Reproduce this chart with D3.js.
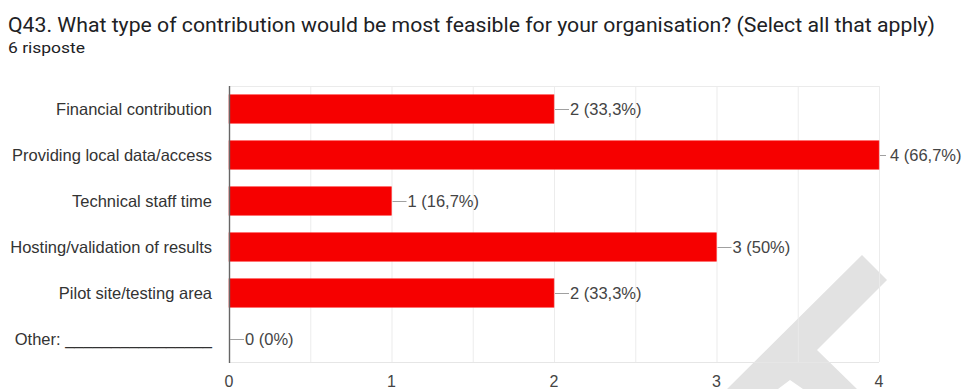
<!DOCTYPE html>
<html><head><meta charset="utf-8">
<script src="https://cdn.jsdelivr.net/npm/d3@7"></script>
<style>body{margin:0;background:#fff;} svg{display:block;}</style>
</head><body>
<svg id="c" width="967" height="389"></svg>
<script>
const title = "Q43. What type of contribution would be most feasible for your organisation? (Select all that apply)";
const subtitle = "6 risposte";
const categories = ["Financial contribution","Providing local data/access","Technical staff time","Hosting/validation of results","Pilot site/testing area","Other: ________________"];
const values = [2,4,1,3,2,0];
const labels = ["2 (33,3%)","4 (66,7%)","1 (16,7%)","3 (50%)","2 (33,3%)","0 (0%)"];
const xTicks = [0,1,2,3,4];
const gridSteps = [0,0.5,1,1.5,2,2.5,3,3.5,4];

(function(){
const svg = d3.select("#c");
const pL = 229, pR = 879, pT = 86, pB = 362;
const F = "'Liberation Sans', Arial, Helvetica, sans-serif";

// watermark (background logo)
svg.append("polygon")
  .attr("points","862,255 887,280 817,350 857,389 803,389 790,380 778,389 727,389")
  .attr("fill","#e2e2e2");

svg.append("text").attr("x",8).attr("y",32)
  .attr("font-family","Roboto, 'Liberation Sans', Arial, sans-serif")
  .attr("font-size",21).attr("fill","#202124")
  .attr("textLength",927).attr("lengthAdjust","spacingAndGlyphs").text(title);
svg.append("text").attr("x",8).attr("y",53)
  .attr("font-family","Roboto, 'Liberation Sans', Arial, sans-serif")
  .attr("font-size",15).attr("fill","#202124")
  .attr("textLength",77).attr("lengthAdjust","spacingAndGlyphs").text(subtitle);

const x = d3.scaleLinear().domain([0,4]).range([pL,pR]);
const y = d3.scaleBand().domain(categories).range([pT,pB]).paddingInner(0.38).paddingOuter(0.19);

const g = svg.append("g");
g.selectAll("line.grid").data(gridSteps).join("line")
  .attr("x1",d=>x(d)+0.5).attr("x2",d=>x(d)+0.5)
  .attr("y1",pT).attr("y2",pB)
  .attr("stroke","#ebebeb").attr("stroke-width",1).attr("opacity",0.9);
g.append("line").attr("x1",pL).attr("x2",pR).attr("y1",pT+0.5).attr("y2",pT+0.5).attr("stroke","#ebebeb");
g.append("line").attr("x1",pL).attr("x2",pR).attr("y1",pB+0.5).attr("y2",pB+0.5).attr("stroke","#e6e6e6");

g.selectAll("rect.bar").data(values).join("rect")
  .attr("x",x(0)).attr("y",(d,i)=>y(categories[i]))
  .attr("width",d=>x(d)-x(0)).attr("height",y.bandwidth())
  .attr("fill","#f60000").attr("stroke","#ff3a3a").attr("stroke-width",0.6);

// axis line
g.append("line").attr("x1",pL+0.5).attr("x2",pL+0.5).attr("y1",pT).attr("y2",pB+1)
  .attr("stroke","#666").attr("stroke-width",1.4);

// leader lines and value labels
values.forEach((v,i)=>{
  const cy = y(categories[i]) + y.bandwidth()/2;
  const x0 = x(v) + 1;
  g.append("line").attr("x1",x0).attr("x2",x0+(v===4?6:14)).attr("y1",cy+0.5).attr("y2",cy+0.5)
    .attr("stroke","#a0a0a0").attr("stroke-width",1);
  g.append("text").attr("x",x0+ (v===4?10:15)).attr("y",cy).attr("dy","0.36em")
    .attr("font-family",F).attr("font-size",16.5)
    .attr("fill","#444").text(labels[i]);
});

// category labels
svg.append("g").selectAll("text").data(categories).join("text")
  .attr("x",212).attr("y",d=>y(d)+y.bandwidth()/2).attr("dy","0.36em")
  .attr("text-anchor","end")
  .attr("font-family",F).attr("font-size",16.5)
  .attr("fill","#333").text(d=>d);

// x tick labels
svg.append("g").selectAll("text").data(xTicks).join("text")
  .attr("x",d=>x(d)).attr("y",381).attr("dy","0.36em").attr("text-anchor","middle")
  .attr("font-family",F).attr("font-size",16)
  .attr("fill","#444").text(d=>d);
})();
</script>
</body></html>
